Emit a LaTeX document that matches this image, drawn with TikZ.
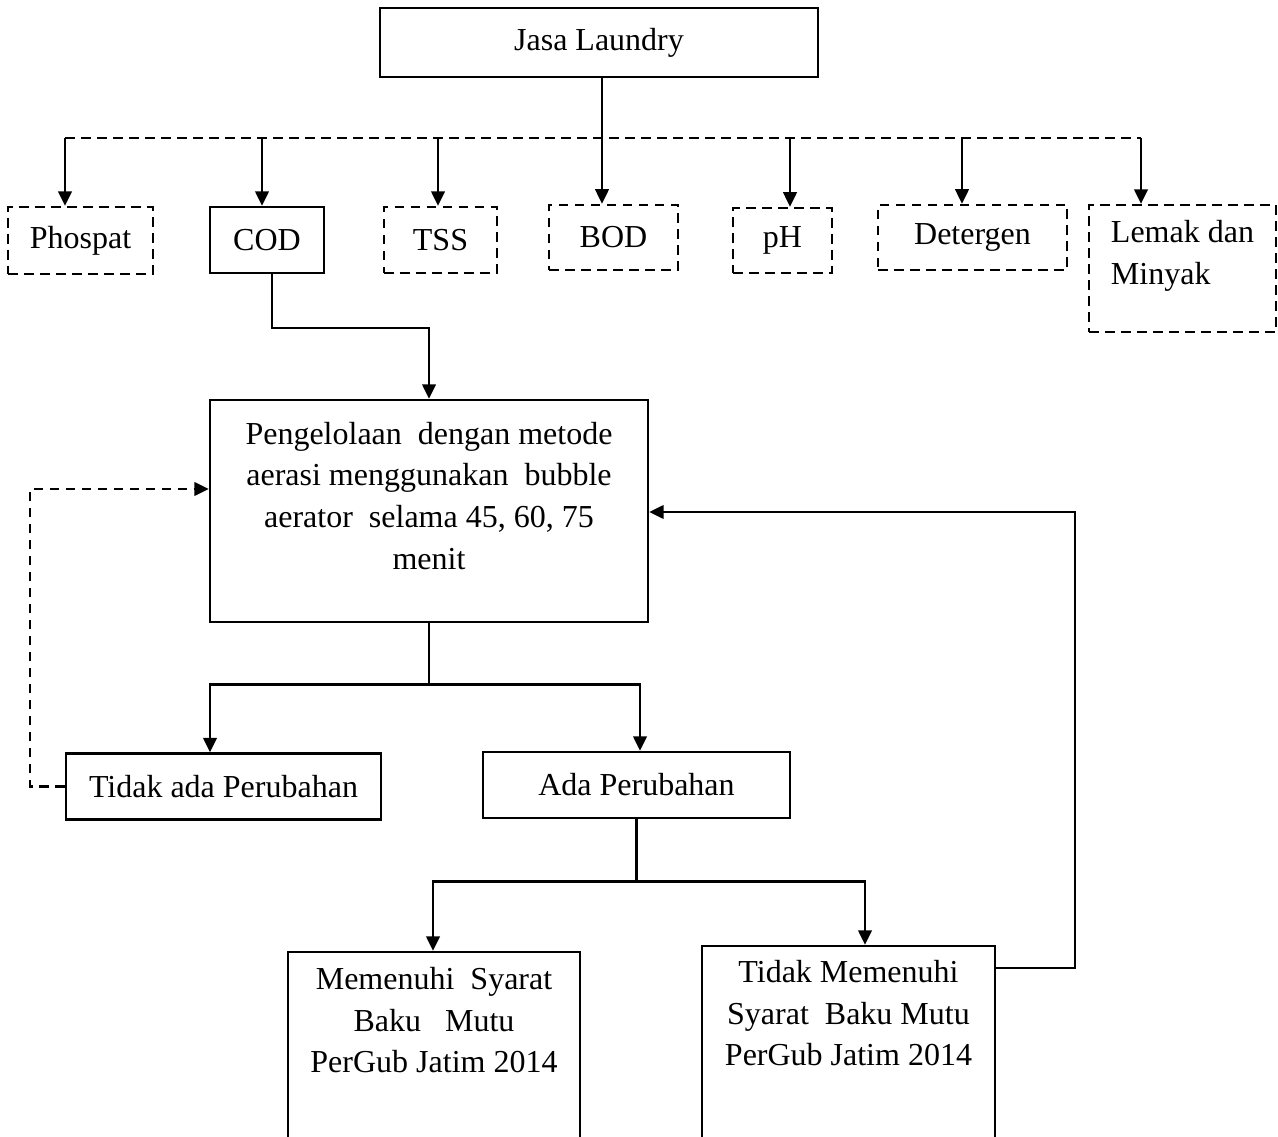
\documentclass[tikz,border=0pt]{standalone}
\usepackage{fontspec}
\setmainfont{Liberation Serif}
\usetikzlibrary{positioning, calc, arrows.meta}
\begin{document}
\begin{tikzpicture}[x=0.375pt, y=-0.375pt, font=\fontsize{12}{15.6}\selectfont,
    kotak/.style={draw, line width=0.8pt, inner sep=0pt},
    putus/.style={kotak, dash pattern=on 3.6pt off 2.4pt},
    garis/.style={line width=0.8pt},
    panah/.style={line width=1.1pt, -{Triangle[length=5.5pt,width=5pt]}},
    isi/.style={anchor=north, inner sep=0pt, align=center}]
    \useasboundingbox (0,0) rectangle (1278,1137);
    \clip (0,0) rectangle (1278,1137);
    % parameter
        \node[kotak, minimum width=164.25pt, minimum height=25.9pt] (jasa) at (599,42.5) {Jasa Laundry};
        \node[putus, minimum width=54.4pt, minimum height=25.1pt] (phospat) at (80.5,240.5) {Phospat};
        \node[kotak, minimum width=42.75pt, minimum height=24.75pt] (cod) at (267,240) {COD};
        \node[putus, minimum width=42.4pt, minimum height=24.75pt] (tss) at (440.5,240) {TSS};
        \node[putus, minimum width=48.4pt, minimum height=24.4pt] (bod) at (613.5,237.5) {BOD};
        \node[putus, minimum width=37.1pt, minimum height=24.4pt] (ph) at (782.5,240.5) {pH};
        \node[putus, minimum width=70.9pt, minimum height=24.4pt] (deterjen) at (972.5,237.5) {Detergen};
        \node[putus, minimum width=70.1pt, minimum height=47.6pt,
            label={[isi, align=left, yshift=-6pt]north:{Lemak dan\\Minyak}}] (lemak) at (1182.5,268.5) {};
        \coordinate (bus kiri) at (65,138);
        \coordinate (bus kanan) at (1141,138);
        \draw[garis, dash pattern=on 3.6pt off 2.4pt] (bus kiri) -- (bus kanan);
        \foreach \x/\n in {65/phospat, 262/cod, 438/tss, 790/ph, 962/deterjen, 1141/lemak}
            \draw[panah] (\x,138) -- (\x,0 |- \n.north);
        \draw[panah] (602,0 |- jasa.south) -- (602,0 |- bod.north);
    % pengolahan
        \node[kotak, minimum width=164.25pt, minimum height=83.25pt,
            label={[isi, yshift=-8.5pt]north:{Pengelolaan\ \ dengan metode\\aerasi menggunakan\ \ bubble\\aerator\ \ selama 45, 60, 75\\menit}}] (utama) at (429,511) {};
        \draw[panah] (272,0 |- cod.south) -- (272,328) -| (utama.north);
        \node[kotak, minimum width=118.1pt, minimum height=24.75pt] (tidak) at (223.5,786.5) {Tidak ada Perubahan};
        \node[kotak, minimum width=115.1pt, minimum height=24.75pt] (ada) at (636.5,785) {Ada Perubahan};
        \draw[garis] (utama.south) -- ++(0,61) coordinate (cabang1);
        \draw[panah] (cabang1) -| (210,0 |- tidak.north);
        \draw[panah] (cabang1) -| (640,0 |- ada.north);
        \draw[panah, dash pattern=on 3.6pt off 2.4pt] (tidak.west) -- (30,0 |- tidak.west) |- (utama.west |- 0,489);
    % hasil
        \node[kotak, minimum width=109.5pt, minimum height=93pt,
            label={[isi, yshift=-6pt]north:{Memenuhi~ Syarat\\Baku~~~Mutu\\PerGub Jatim 2014}}] (memenuhi) at (434,1076) {};
        \node[kotak, minimum width=109.9pt, minimum height=95.25pt,
            label={[isi, yshift=-5.6pt]north:{Tidak Memenuhi\\Syarat~ Baku Mutu\\PerGub Jatim 2014}}] (tdkmemenuhi) at (848.5,1073) {};
        \draw[garis] (ada.south) -- ++(0,62) coordinate (cabang2);
        \draw[panah] (cabang2) -| (433,0 |- memenuhi.north);
        \draw[panah] (cabang2) -| (865,0 |- tdkmemenuhi.north);
        \draw[panah] (tdkmemenuhi.east |- 0,968) -| (1075,512) -- (utama.east |- 0,512);
\end{tikzpicture}
\end{document}
